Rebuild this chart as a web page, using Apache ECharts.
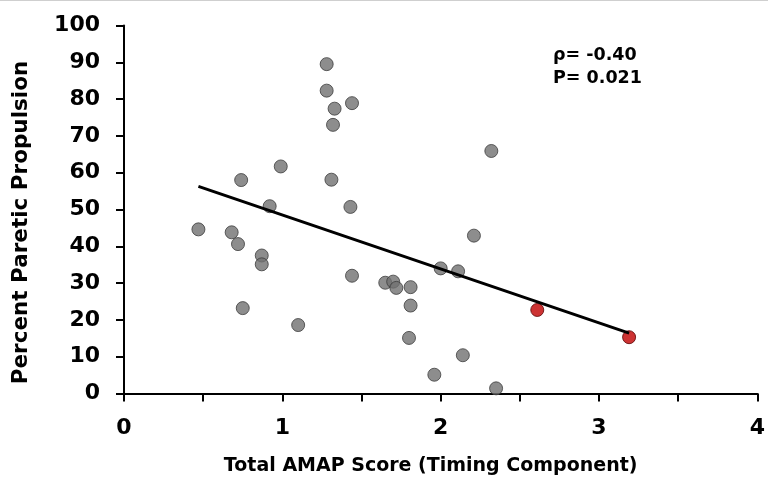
<!DOCTYPE html>
<html>
<head>
<meta charset="utf-8">
<script src="https://cdn.jsdelivr.net/npm/echarts@6/dist/echarts.min.js"></script>
<style>
  html, body { margin: 0; padding: 0; background: #fff; }
  #chart { width: 768px; height: 482px; }
</style>
</head>
<body>
<div id="chart"></div>
<script>
// 灰色点（AMAP 时间分量, 推进百分比）
const grayX = [1.28, 1.28, 1.33, 1.44, 1.32, 0.99, 0.74, 1.31, 0.92, 1.43,
  0.47, 0.68, 0.72, 0.87, 0.87, 1.44, 1.65, 1.70, 1.72, 1.81,
  1.81, 0.75, 1.10, 1.80, 1.96, 2.32, 2.00, 2.11, 2.21, 2.14, 2.35]
const grayY = [89.5, 82.3, 77.4, 78.9, 73.0, 61.7, 58.0, 58.1, 50.9, 50.7,
  44.6, 43.8, 40.6, 37.5, 35.1, 32.0, 30.1, 30.4, 28.7, 28.9,
  23.9, 23.2, 18.6, 15.1, 5.1, 65.9, 34.0, 33.2, 42.9, 10.4, 1.4]
// 红色点
const redX = [2.61, 3.19]
const redY = [22.7, 15.3]
// 回归线端点
const fitX = [0.47, 3.19]
const fitY = [56.3, 16.4]

const statText = ['ρ= -0.40', 'P= 0.021']

const FONT = '"DejaVu Sans", Verdana, sans-serif'
const pair = (xs, ys) => xs.map((x, i) => [x, ys[i]])

const chart = echarts.init(document.getElementById('chart'))
chart.setOption({
  animation: false,
  grid: { left: 124, right: 6, top: 25.5, bottom: 88.5 },
  graphic: [
    { type: 'line', shape: { x1: 0, y1: 0.5, x2: 768, y2: 0.5 }, style: { stroke: '#cfcfcf', lineWidth: 1 } },
    {
      type: 'text', left: 553, top: 44,
      style: { text: statText.join('\n'), font: 'bold 17.5px ' + FONT, fill: '#000', lineHeight: 23 }
    }
  ],
  xAxis: {
    type: 'value',
    min: 0,
    max: 4,
    interval: 1,
    name: 'Total AMAP Score (Timing Component)',
    nameLocation: 'middle',
    nameGap: 63,
    nameTextStyle: { fontFamily: FONT, fontWeight: 'bold', fontSize: 19, color: '#000', padding: [0, 20, 0, 0] },
    axisLine: { show: true, lineStyle: { color: '#000', width: 2 } },
    axisTick: { show: true, length: 8, lineStyle: { color: '#000', width: 2 } },
    minorTick: { show: true, splitNumber: 2, length: 8, lineStyle: { color: '#000', width: 2 } },
    axisLabel: { margin: 24, fontFamily: FONT, fontWeight: 'bold', fontSize: 22, color: '#000' },
    splitLine: { show: false }
  },
  yAxis: {
    type: 'value',
    min: 0,
    max: 100,
    interval: 10,
    name: 'Percent Paretic Propulsion',
    nameLocation: 'middle',
    nameGap: 92,
    nameTextStyle: { fontFamily: FONT, fontWeight: 'bold', fontSize: 21.5, color: '#000', padding: [0, 26, 0, 0] },
    axisLine: { show: true, lineStyle: { color: '#000', width: 2 } },
    axisTick: { show: true, length: 8, lineStyle: { color: '#000', width: 2 } },
    axisLabel: { margin: 24, fontFamily: FONT, fontWeight: 'bold', fontSize: 22, color: '#000' },
    splitLine: { show: false }
  },
  series: [
    {
      type: 'line',
      data: pair(fitX, fitY),
      symbol: 'none',
      lineStyle: { color: '#000', width: 3 },
      z: 3
    },
    {
      type: 'scatter',
      data: pair(grayX, grayY),
      symbolSize: 13,
      itemStyle: { color: '#707070', borderColor: '#3c3c3c', borderWidth: 1 },
      z: 2
    },
    {
      type: 'scatter',
      data: pair(redX, redY),
      symbolSize: 13,
      itemStyle: { color: '#c00000', borderColor: '#5a0000', borderWidth: 1 },
      z: 2
    }
  ]
})
</script>
</body>
</html>
